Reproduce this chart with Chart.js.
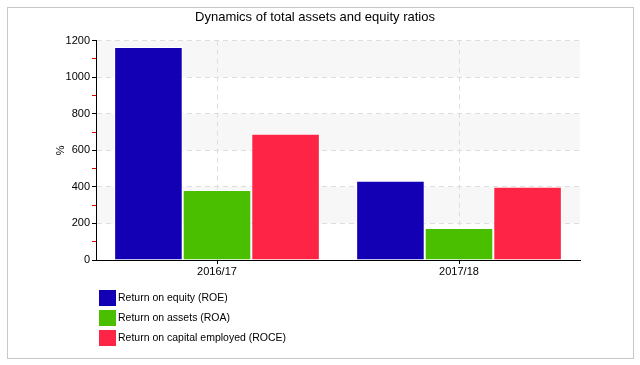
<!DOCTYPE html>
<html>
<head>
<meta charset="utf-8">
<script src="https://cdn.jsdelivr.net/npm/chart.js@4"></script>
<style>
  body { margin: 0; background: #fff; }
  #wrap { width: 640px; height: 365px; }
</style>
</head>
<body>
<div id="wrap"><canvas id="myChart" width="640" height="365"></canvas></div>
<script>
// data
var years = ['2016/17', '2017/18'];
var roe = [1165, 433];   // Return on equity
var roa = [383, 175];    // Return on assets
var roce = [690, 400];   // Return on capital employed
var yMax = 1200;

var FONT = 'Liberation Sans';

// grey bands + outer frame
var bgPlugin = {
  id: 'bg',
  beforeDraw: function(chart) {
    var ctx = chart.ctx, a = chart.chartArea, y = chart.scales.y;
    ctx.save();
    ctx.strokeStyle = '#c8c8c8';
    ctx.lineWidth = 1;
    ctx.strokeRect(7.5, 7.5, 626, 351);
    ctx.fillStyle = '#f7f7f7';
    for (var v = 0; v < yMax; v += 200) {
      if ((v / 200) % 2 == 1) {
        var top = y.getPixelForValue(v + 200), bot = y.getPixelForValue(v);
        ctx.fillRect(a.left, top, a.right - a.left, bot - top);
      }
    }
    ctx.restore();
  }
};

// legend stacked under the plot
var legendPlugin = {
  id: 'stackLegend',
  afterDraw: function(chart) {
    var ctx = chart.ctx, a = chart.chartArea;
    ctx.save();
    ctx.font = '10.5px "' + FONT + '"';
    ctx.textBaseline = 'middle';
    chart.data.datasets.forEach(function(ds, i) {
      var y0 = a.bottom + 30 + i * 20;
      ctx.fillStyle = ds.backgroundColor;
      ctx.fillRect(a.left + 3, y0, 17, 16);
      ctx.fillStyle = '#000';
      ctx.fillText(ds.label, a.left + 22, y0 + 8);
    });
    ctx.restore();
  }
};

var ctx = document.getElementById('myChart').getContext('2d');
var chart = new Chart(ctx, {
  type: 'bar',
  data: {
    labels: years,
    datasets: [
      { label: 'Return on equity (ROE)', data: roe, backgroundColor: '#1400b4' },
      { label: 'Return on assets (ROA)', data: roa, backgroundColor: '#4abf00' },
      { label: 'Return on capital employed (ROCE)', data: roce, backgroundColor: '#fd2446' }
    ]
  },
  options: {
    responsive: false,
    animation: false,
    layout: { padding: { left: 50, right: 60, top: 0, bottom: 87 } },
    datasets: {
      bar: { categoryPercentage: 0.85, barPercentage: 1.0, borderWidth: 1, borderColor: '#ffffff' }
    },
    plugins: {
      legend: { display: false },
      tooltip: { enabled: false },
      title: {
        display: true,
        text: 'Dynamics of total assets and equity ratios',
        color: '#000',
        font: { family: FONT, size: 13, weight: 'normal' },
        padding: { top: 10, bottom: 15 }
      }
    },
    scales: {
      x: {
        afterFit: function(s) { s.height = 18; },
        grid: {
          offset: false,
          color: '#dddddd',
          tickColor: '#000',
          tickLength: 4
        },
        border: { color: '#000', dash: [5, 4] },
        ticks: { color: '#000', padding: 1, font: { family: FONT, size: 11 } }
      },
      y: {
        min: 0,
        max: yMax,
        afterFit: function(s) { s.width = 46; },
        title: { display: true, text: '%', color: '#000', padding: { top: 4, bottom: 0 }, font: { family: FONT, size: 11 } },
        grid: {
          color: function(c) { return (c.tick && c.tick.value % 200 == 0) ? '#dddddd' : 'rgba(0,0,0,0)'; },
          tickColor: function(c) { return (c.tick && c.tick.value % 200 == 0) ? '#000' : '#e00000'; },
          tickLength: 4
        },
        border: { color: '#000', dash: [5, 4] },
        ticks: {
          stepSize: 100,
          autoSkip: false,
          padding: 2,
          color: '#000',
          font: { family: FONT, size: 11 },
          callback: function(v) { return v % 200 == 0 ? v : ''; }
        }
      }
    }
  },
  plugins: [bgPlugin, legendPlugin]
});
</script>
</body>
</html>
